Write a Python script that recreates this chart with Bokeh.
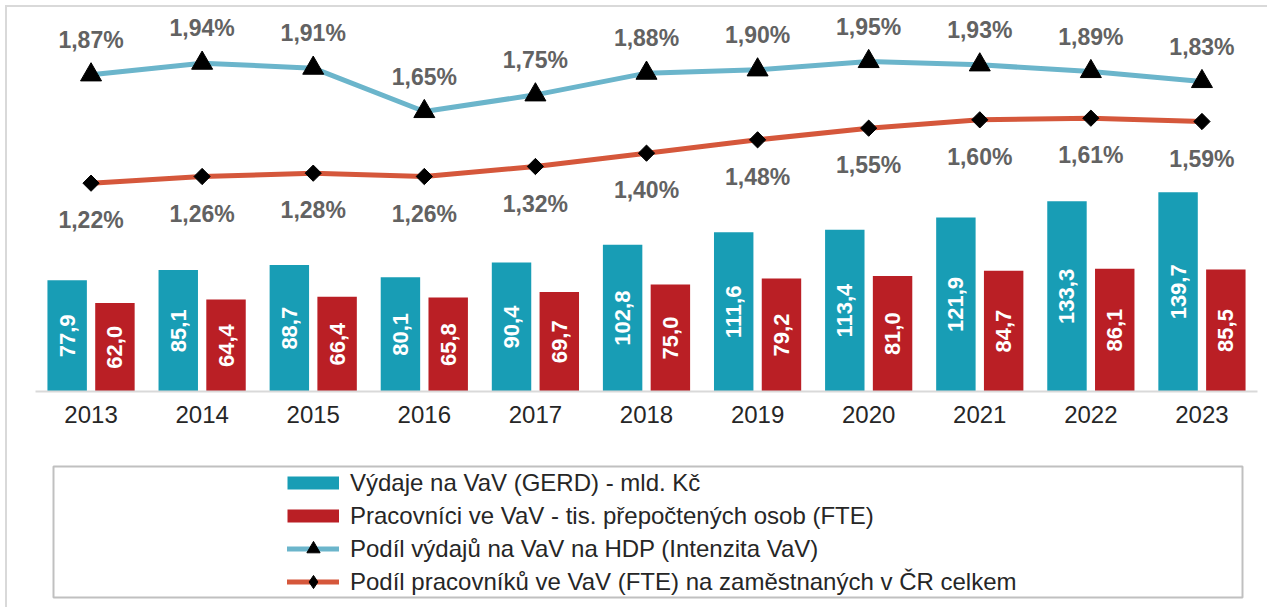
import numpy as np
from bokeh.plotting import figure
from bokeh.models import (ColumnDataSource, FactorRange, Range1d, Legend, LegendItem,
                          BoxAnnotation)
from bokeh.transform import dodge
from bokeh.layouts import column
from bokeh.embed import file_html
from bokeh.resources import INLINE
from bokeh.core.properties import value

# ---- data ----
years = ["2013", "2014", "2015", "2016", "2017", "2018", "2019", "2020", "2021", "2022", "2023"]
gerd = [77.9, 85.1, 88.7, 80.1, 90.4, 102.8, 111.6, 113.4, 121.9, 133.3, 139.7]
fte = [62.0, 64.4, 66.4, 65.8, 69.7, 75.0, 79.2, 81.0, 84.7, 86.1, 85.5]
gerd_gdp = [1.87, 1.94, 1.91, 1.65, 1.75, 1.88, 1.90, 1.95, 1.93, 1.89, 1.83]
fte_emp = [1.22, 1.26, 1.28, 1.26, 1.32, 1.40, 1.48, 1.55, 1.60, 1.61, 1.59]
series_names = [
    "Výdaje na VaV (GERD) - mld. Kč",
    "Pracovníci ve VaV - tis. přepočtených osob (FTE)",
    "Podíl výdajů na VaV na HDP (Intenzita VaV)",
    "Podíl pracovníků ve VaV (FTE) na zaměstnaných v ČR celkem",
]

C_GERD = "#189DB5"
C_FTE = "#BA1F25"
C_GDP = "#6BB5CB"
C_EMP = "#D5573B"
FONT = "Liberation Sans"

def num(v):
    return f"{v:.1f}".replace(".", ",")

def pct(v):
    return f"{v:.2f}%".replace(".", ",")

src = ColumnDataSource(dict(
    year=years,
    gerd=gerd, fte=fte,
    gerd_mid=[v / 2 for v in gerd], fte_mid=[v / 2 for v in fte],
    gerd_lbl=[num(v) for v in gerd], fte_lbl=[num(v) for v in fte],
    gdp=gerd_gdp, emp=fte_emp,
    gdp_lbl=[pct(v) for v in gerd_gdp], emp_lbl=[pct(v) for v in fte_emp],
))

def xr():
    return FactorRange(*years, range_padding=0, factor_padding=0,
                       group_padding=0, subgroup_padding=0)

FW = 1222          # plot frame width shared by both panels
MBL, MBR = 28, 10  # side borders

# ---- main chart ----
p = figure(frame_width=FW, frame_height=384,
           x_range=xr(),
           y_range=Range1d(0, 269.1),
           y_axis_type=None,
           output_backend="svg", toolbar_location=None,
           min_border_left=MBL, min_border_right=MBR,
           min_border_top=0, min_border_bottom=59)
p.extra_y_ranges = {"pct": Range1d(-0.03, 2.274)}
p.outline_line_color = None
p.grid.visible = False
p.background_fill_color = "white"
p.border_fill_color = "white"

off = 0.215
bw = 0.355
p.vbar(x=dodge("year", -off, range=p.x_range), top="gerd", width=bw,
       source=src, fill_color=C_GERD, line_color=None)
p.vbar(x=dodge("year", off, range=p.x_range), top="fte", width=bw,
       source=src, fill_color=C_FTE, line_color=None)

bar_txt = dict(angle=np.pi / 2, text_align="center", text_baseline="middle",
               text_font=value(FONT), text_font_style="bold",
               text_font_size="22px", text_color="white", source=src)
p.text(x=dodge("year", -off, range=p.x_range), y="gerd_mid", text="gerd_lbl", **bar_txt)
p.text(x=dodge("year", off, range=p.x_range), y="fte_mid", text="fte_lbl", **bar_txt)

p.line(x="year", y="gdp", y_range_name="pct", source=src,
       line_color=C_GDP, line_width=5, line_join="round", line_cap="round")
p.line(x="year", y="emp", y_range_name="pct", source=src,
       line_color=C_EMP, line_width=5, line_join="round", line_cap="round")
p.scatter(x="year", y="gdp", y_range_name="pct", source=src,
          marker="triangle", size=21, fill_color="black", line_color="black")
p.scatter(x="year", y="emp", y_range_name="pct", source=src,
          marker="square", angle=np.pi / 4, size=11.5,
          fill_color="black", line_color="black")

pct_txt = dict(text_align="center", text_baseline="middle",
               text_font=value(FONT), text_font_style="bold",
               text_font_size="23px", text_color="#626262", source=src,
               y_range_name="pct")
p.text(x="year", y="gdp", text="gdp_lbl", y_offset=-35, **pct_txt)
p.text(x="year", y="emp", text="emp_lbl", y_offset=37, **pct_txt)

ax = p.xaxis[0]
ax.axis_line_color = "#d9d9d9"
ax.axis_line_width = 2
ax.major_tick_line_color = None
ax.minor_tick_line_color = None
ax.major_tick_out = 0
ax.major_label_standoff = 14
ax.major_label_text_font = FONT
ax.major_label_text_font_size = "24px"
ax.major_label_text_color = "#262626"

# ---- legend panel: series drawn off-range so only their legend glyphs show ----
LH = 152
q = figure(frame_width=FW, frame_height=LH,
           x_range=xr(), y_range=Range1d(0, LH),
           x_axis_type=None, y_axis_type=None,
           output_backend="svg", toolbar_location=None,
           min_border_left=MBL, min_border_right=MBR,
           min_border_top=0, min_border_bottom=5)
q.extra_y_ranges = {"off": Range1d(1000, 1001)}
q.grid.visible = False
q.outline_line_color = None
q.background_fill_color = "white"
q.border_fill_color = "white"

px2u = len(years) / FW   # frame pixels -> synthetic category units
q.add_layout(BoxAnnotation(left=18 * px2u, right=1207 * px2u, bottom=5, top=136,
                           fill_alpha=0, line_color="#c0c0c0", line_alpha=1.0,
                           line_width=2))

kw = dict(source=src, y_range_name="off")
lr1 = q.line(x="year", y="gerd", line_width=13, line_color=C_GERD, line_cap="butt", **kw)
lr2 = q.line(x="year", y="fte", line_width=13, line_color=C_FTE, line_cap="butt", **kw)
lr3 = q.line(x="year", y="gdp", line_width=5, line_color=C_GDP, line_cap="round", **kw)
lm3 = q.scatter(x="year", y="gdp", marker="triangle",
                fill_color="black", line_color="black", **kw)
lr4 = q.line(x="year", y="emp", line_width=5, line_color=C_EMP, line_cap="round", **kw)
lm4 = q.scatter(x="year", y="emp", marker="diamond",
                fill_color="black", line_color="black", **kw)

legend = Legend(items=[
    LegendItem(label=series_names[0], renderers=[lr1]),
    LegendItem(label=series_names[1], renderers=[lr2]),
    LegendItem(label=series_names[2], renderers=[lr3, lm3]),
    LegendItem(label=series_names[3], renderers=[lr4, lm4]),
], location=(252, 4), orientation="vertical",
    border_line_color=None, background_fill_alpha=0,
    padding=0, margin=0, spacing=0,
    glyph_width=52, glyph_height=33, label_height=33, label_standoff=11,
    label_text_font=FONT, label_text_font_size="24px", label_text_color="#262626")
q.add_layout(legend)

layout = column(p, q, spacing=0,
                styles={"margin-left": "5px", "margin-top": "5px",
                        "border-left": "2px solid #d9d9d9",
                        "border-top": "2px solid #d9d9d9"})

open("out.html", "w").write(file_html(layout, INLINE))
